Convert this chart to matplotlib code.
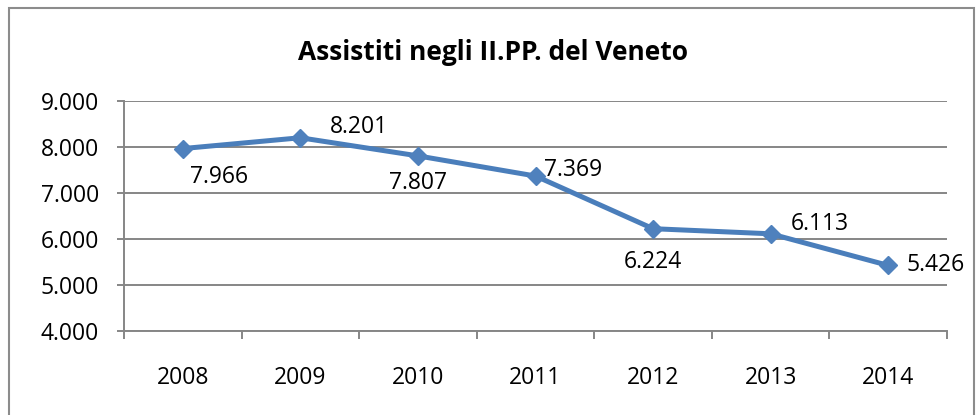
import matplotlib
matplotlib.use("Agg")
import matplotlib.pyplot as plt
from matplotlib.patches import Rectangle
from matplotlib.ticker import FixedLocator, FuncFormatter

years = ["2008", "2009", "2010", "2011", "2012", "2013", "2014"]
values = [7966, 8201, 7807, 7369, 6224, 6113, 5426]
yticks = [4000, 5000, 6000, 7000, 8000, 9000]
title = "Assistiti negli II.PP. del Veneto"

# label offsets in pixels (dx, dy), alignment
label_pos = [(36, -28, "center"), (59, 11, "center"), (0, -27, "center"),
             (38, 6, "center"), (0, -33, "center"), (49, 10, "center"),
             (18, 0, "left")]

def it(v):
    return f"{v:,.0f}".replace(",", ".")

plt.rcParams["font.family"] = ["Open Sans", "DejaVu Sans"]
W, H = 979, 415
fig = plt.figure(figsize=(W / 100, H / 100), dpi=100)
fig.patch.set_facecolor("white")

# chart border
fig.add_artist(Rectangle((9 / W, -0.05), (974 - 9) / W, 1 - 8 / H + 0.05,
                         transform=fig.transFigure, fill=False,
                         edgecolor="#8c8c8c", linewidth=1.5))

ax = fig.add_axes([124 / W, 1 - 331 / H, (947 - 124) / W, (331 - 101) / H])
x = list(range(len(years)))
ax.plot(x, values, color="#4A7EBB", linewidth=3.6, marker="D",
        markersize=9.5, markerfacecolor="#4F81BD", markeredgecolor="#4F81BD",
        zorder=3, clip_on=False)

ax.set_xlim(-0.5, len(years) - 0.5)
ax.set_ylim(yticks[0], yticks[-1])
ax.set_yticks(yticks)
ax.yaxis.set_major_formatter(FuncFormatter(lambda v, p: it(v)))
ax.set_xticks(x)
ax.set_xticklabels(years)
ax.xaxis.set_minor_locator(FixedLocator([i - 0.5 for i in range(len(years) + 1)]))

ax.grid(axis="y", color="#868686", linewidth=1.4)
ax.set_axisbelow(True)
for s in ["top", "right"]:
    ax.spines[s].set_visible(False)
for s in ["left", "bottom"]:
    ax.spines[s].set_color("#868686")
    ax.spines[s].set_linewidth(1.4)

ax.tick_params(axis="y", direction="out", length=5, width=1.4, color="#868686",
               labelsize=16.5, pad=13)
ax.tick_params(axis="x", which="major", length=0, labelsize=16.5, pad=25)
ax.tick_params(axis="x", which="minor", direction="out", length=6, width=1.4,
               color="#868686")

for xi, v, (dx, dy, ha) in zip(x, values, label_pos):
    ax.annotate(it(v), (xi, v), xytext=(dx, dy), textcoords="offset pixels",
                ha=ha, va="center", fontsize=16.5, color="black")

fig.text(493 / W, 1 - 52 / H, title, ha="center", va="center",
         fontsize=19, fontweight="bold")

fig.savefig("out.png", dpi=100)
